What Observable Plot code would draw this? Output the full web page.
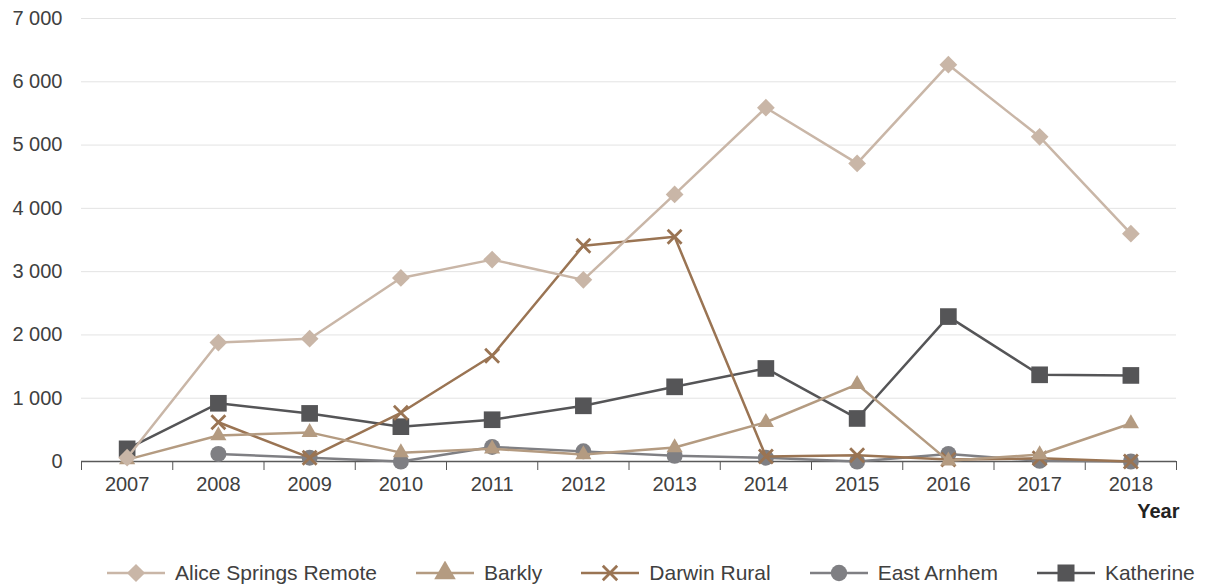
<!DOCTYPE html>
<html>
<head>
<meta charset="utf-8">
<script src="https://cdn.jsdelivr.net/npm/d3@7"></script>
<script src="https://cdn.jsdelivr.net/npm/@observablehq/plot@0.6"></script>
<style>
  body { margin: 0; background: #fff; font-family: "Liberation Sans", Arial, sans-serif; }
  #legend { display: flex; align-items: center; height: 57px; padding-left: 107px; box-sizing: border-box; gap: 39px; font-size: 21px; color: #404040; padding-top: 29px; }
  .item { display: flex; align-items: center; gap: 10px; }
</style>
</head>
<body>
<div id="chart"></div>
<div id="legend"></div>
<script>
const years = [2007, 2008, 2009, 2010, 2011, 2012, 2013, 2014, 2015, 2016, 2017, 2018];
const aliceSpringsRemote = [60, 1880, 1940, 2900, 3190, 2870, 4220, 5590, 4710, 6270, 5130, 3600];
const barkly = [30, 410, 460, 140, 200, 110, 220, 620, 1220, 10, 110, 600];
const darwinRural = [null, 620, 60, 770, 1670, 3410, 3550, 80, 100, 30, 50, 0];
const eastArnhem = [null, 120, 60, 0, 230, 160, 90, 60, 0, 120, 10, 0];
const katherine = [200, 920, 760, 550, 660, 880, 1180, 1470, 680, 2290, 1370, 1360];
const yTicks = [0, 1000, 2000, 3000, 4000, 5000, 6000, 7000];

const seriesNames = ["Alice Springs Remote", "Barkly", "Darwin Rural", "East Arnhem", "Katherine"];
const seriesValues = [aliceSpringsRemote, barkly, darwinRural, eastArnhem, katherine];
const colors = ["#c9b6a7", "#b49b81", "#9a7453", "#7f7f83", "#555557"];
const symbols = [d3.symbolDiamond2, d3.symbolTriangle, d3.symbolTimes, d3.symbolCircle, d3.symbolSquare];
const radii = [8, 6, 6.4, 8, 9.4];
const legendRadii = [8.2, 8, 6.6, 8.2, 9.6];
const hollow = [false, false, true, false, false];

const fmt = d3.formatLocale({decimal: ".", thousands: " ", grouping: [3], currency: ["", ""]}).format(",d");

const rows = [];
seriesNames.forEach((name, s) => {
  years.forEach((yr, i) => rows.push({series: name, s, year: yr, value: seriesValues[s][i]}));
});
const boundaries = [...years.map(y => y - 0.5), years[years.length - 1] + 0.5];

const marks = [
  Plot.ruleY(yTicks.filter(d => d > 0), {stroke: "#e3e3e3", strokeWidth: 1}),
  Plot.axisY({ticks: yTicks, tickSize: 0, tickPadding: 19, tickFormat: fmt, label: null, fontSize: 20, fill: "#404040"}),
  Plot.axisX({ticks: boundaries, tickSize: 9, tickFormat: () => "", label: null, stroke: "#555"}),
  Plot.axisX({ticks: years, tickSize: 0, tickPadding: 15, tickFormat: d => String(d), label: null, fontSize: 20, fill: "#404040"}),
  Plot.ruleY([0], {stroke: "#595959", strokeWidth: 1.5}),
  Plot.text(["Year"], {frameAnchor: "bottom-right", dy: 56, dx: 3, textAnchor: "end", fontWeight: "bold", fontSize: 20, fill: "#222"})
];
for (let s = seriesNames.length - 1; s >= 0; s--) {
  const data = rows.filter(r => r.s === s);
  marks.push(Plot.line(data, {x: "year", y: "value", stroke: colors[s], strokeWidth: 2.5}));
  const pts = data.filter(r => r.value != null);
  if (hollow[s]) {
    marks.push(Plot.dot(pts, {x: "year", y: "value", symbol: symbols[s], r: radii[s], stroke: colors[s], strokeWidth: 2.8, fill: "none"}));
  } else {
    marks.push(Plot.dot(pts, {x: "year", y: "value", symbol: symbols[s], r: radii[s], fill: colors[s], stroke: "none"}));
  }
}

const chart = Plot.plot({
  width: 1205,
  height: 530,
  marginLeft: 81,
  marginRight: 29,
  marginTop: 18,
  marginBottom: 69,
  style: {fontFamily: "'Liberation Sans', Arial, sans-serif", fontSize: "20px", color: "#404040", background: "#fff"},
  x: {type: "linear", domain: [years[0] - 0.5, years[years.length - 1] + 0.5]},
  y: {domain: [0, 7000]},
  marks
});
document.getElementById("chart").append(chart);

const legend = d3.select("#legend");
seriesNames.forEach((name, s) => {
  const item = legend.append("div").attr("class", "item");
  const svg = item.append("svg").attr("width", 58).attr("height", 24);
  svg.append("line").attr("x1", 0).attr("x2", 58).attr("y1", 12).attr("y2", 12).attr("stroke", colors[s]).attr("stroke-width", 2.5);
  const path = svg.append("path").attr("transform", "translate(29,12)")
    .attr("d", d3.symbol(symbols[s], Math.PI * legendRadii[s] * legendRadii[s])());
  if (hollow[s]) path.attr("fill", "none").attr("stroke", colors[s]).attr("stroke-width", 2.8);
  else path.attr("fill", colors[s]);
  item.append("span").text(name);
});
</script>
</body>
</html>
